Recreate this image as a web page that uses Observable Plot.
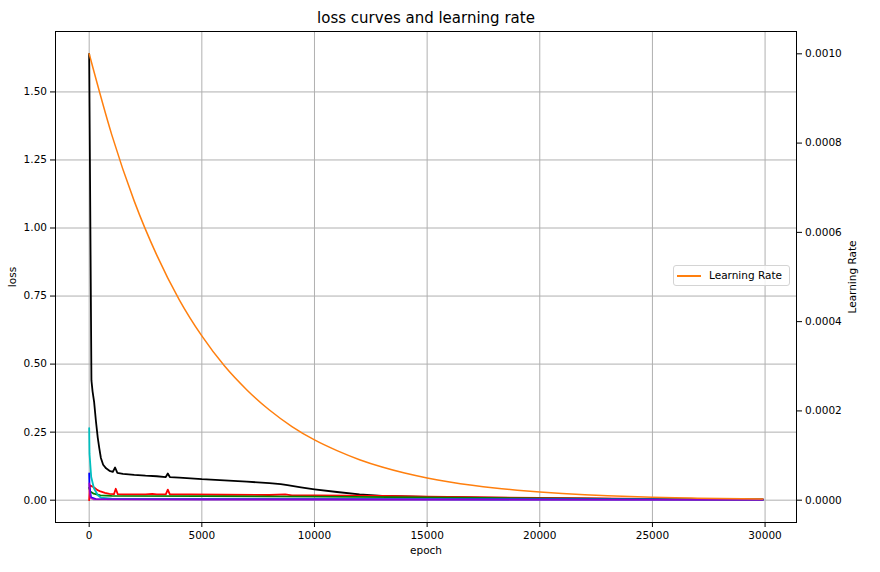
<!DOCTYPE html>
<html><head><meta charset="utf-8">
<script src="https://cdn.jsdelivr.net/npm/d3@7"></script>
<script src="https://cdn.jsdelivr.net/npm/@observablehq/plot@0.6"></script>
<style>
body{margin:0;background:#fff;font-family:"DejaVu Sans",sans-serif;}
#wrap{position:relative;width:880px;height:572px;}
#legend{position:absolute;left:673px;top:265px;width:117px;height:21px;border:1px solid #d4d4d4;border-radius:3px;background:rgba(255,255,255,0.85);font-size:10.5px;color:#000;z-index:2;box-sizing:border-box;}
#legend .sw{position:absolute;left:3px;top:9px;width:24px;height:2px;background:#ff7f0e;}
#legend .lb{position:absolute;left:35px;top:3px;white-space:nowrap;}
</style></head>
<body>
<div id="wrap"><div id="legend"><div class="sw"></div><div class="lb">Learning Rate</div></div></div>
<script>
// ---- data ----
const blackEpoch = [0,100,150,220,300,380,450,520,620,750,900,1050,1150,1250,1500,2000,2500,3000,3400,3490,3580,4000,5000,6000,7000,8000,8500,8800,9400,10000,11000,12000,13000,15000,17500,20000,25000,29900];
const blackLoss  = [1.64,0.44,0.40,0.36,0.29,0.23,0.19,0.155,0.13,0.117,0.108,0.104,0.12,0.10,0.097,0.093,0.09,0.088,0.085,0.098,0.085,0.083,0.077,0.073,0.068,0.063,0.059,0.055,0.047,0.040,0.030,0.021,0.016,0.012,0.009,0.007,0.004,0.003];

const redEpoch = [0,30,150,250,350,500,700,900,1100,1180,1270,1500,2000,2500,2800,3000,3400,3490,3580,4500,6000,8000,8700,9000,10000,13000,15000,20000,25000,29900];
const redLoss  = [0.0,0.055,0.05,0.045,0.038,0.032,0.027,0.023,0.022,0.042,0.022,0.021,0.021,0.021,0.023,0.021,0.021,0.039,0.021,0.021,0.020,0.019,0.021,0.018,0.018,0.016,0.013,0.008,0.005,0.003];

const greenEpoch = [0,50,200,500,1000,5000,10000,15000,20000,25000,29900];
const greenLoss  = [0.045,0.032,0.024,0.018,0.016,0.015,0.013,0.010,0.007,0.004,0.002];

const cyanEpoch = [0,15,90,210,385,530,1000,5000,15000,29900];
const cyanLoss  = [0.265,0.17,0.085,0.044,0.018,0.009,0.006,0.005,0.004,0.002];

const blueEpoch = [0,15,80,300,5000,29900];
const blueLoss  = [0.098,0.05,0.01,0.004,0.003,0.002];

const magentaEpoch = [0,20,60,200,29900];
const magentaLoss  = [0.062,0.035,0.008,0.003,0.001];

const lrEpoch = [0,1000,2000,3000,4000,5000,6000,7000,8000,9000,10000,11000,12000,13000,14000,15000,16000,17000,18000,19000,20000,21000,22000,23000,24000,25000,26000,27000,28000,29000,29900];
const lrValue = [0.001,0.000819,0.000670,0.000549,0.000449,0.000368,0.000301,0.000247,0.000202,0.000165,0.000135,0.000111,0.0000907,0.0000743,0.0000608,0.0000498,0.0000408,0.0000334,0.0000273,0.0000224,0.0000183,0.0000150,0.0000123,0.0000101,0.0000082,0.0000067,0.0000055,0.0000045,0.0000037,0.0000030,0.0000025];

const xTicks = [0,5000,10000,15000,20000,25000,30000];
const lossTicks = [0,0.25,0.5,0.75,1.0,1.25,1.5];
const lrTicks = [0,0.0002,0.0004,0.0006,0.0008,0.001];

// ---- scales ----
const xDomain = [-1495, 31395];
const lossDomain = [-0.082, 1.722];
const lrDomain = [-0.00005, 0.00105];
const toLoss = v => lossDomain[0] + (v - lrDomain[0]) / (lrDomain[1] - lrDomain[0]) * (lossDomain[1] - lossDomain[0]);
const fromLoss = v => lrDomain[0] + (v - lossDomain[0]) / (lossDomain[1] - lossDomain[0]) * (lrDomain[1] - lrDomain[0]);

const series = [
  {c:"#000000", e:blackEpoch, v:blackLoss},
  {c:"#ff0000", e:redEpoch, v:redLoss},
  {c:"#008000", e:greenEpoch, v:greenLoss},
  {c:"#00bfbf", e:cyanEpoch, v:cyanLoss},
  {c:"#0000ff", e:blueEpoch, v:blueLoss},
  {c:"#bf00bf", e:magentaEpoch, v:magentaLoss, o:0.75}
];
const lossMarks = series.map(s => Plot.line(s.e.map((e,i)=>({epoch:e, loss:s.v[i]})), {x:"epoch", y:"loss", stroke:s.c, strokeWidth:1.8, strokeOpacity:s.o ?? 1}));
const lrData = lrEpoch.map((e,i)=>({epoch:e, y:toLoss(lrValue[i])}));

const chart = Plot.plot({
  width: 880, height: 572,
  marginLeft: 55, marginRight: 84, marginTop: 31, marginBottom: 50,
  style: {fontFamily: "DejaVu Sans, sans-serif", fontSize: "10.5px", color: "#000", background: "#fff"},
  x: {domain: xDomain},
  y: {domain: lossDomain},
  marks: [
    Plot.gridX(xTicks, {stroke:"#b0b0b0", strokeOpacity:1, strokeWidth:1}),
    Plot.gridY(lossTicks, {stroke:"#b0b0b0", strokeOpacity:1, strokeWidth:1}),
    ...lossMarks,
    Plot.line(lrData, {x:"epoch", y:"y", stroke:"#ff7f0e", strokeWidth:1.5, curve:"monotone-x"}),
    Plot.frame({stroke:"#000", strokeWidth:1}),
    Plot.axisX({ticks:xTicks, tickSize:5, tickPadding:4, tickFormat:d=>String(d), label:null, fontSize:10.5}),
    Plot.axisY({anchor:"left", ticks:lossTicks, tickSize:5, tickPadding:3.5, tickFormat:d3.format(".2f"), label:null, fontSize:10.5}),
    Plot.axisY({anchor:"right", ticks:lrTicks.map(toLoss), tickSize:5, tickPadding:3.5, tickFormat:d=>(Math.round(fromLoss(d)*1e6)/1e6 + 0).toFixed(4), label:null, fontSize:10.5}),
    Plot.text(["loss curves and learning rate"], {text:d=>d, frameAnchor:"top", lineAnchor:"middle", textAnchor:"middle", dy:-13, fontSize:15}),
    Plot.text(["epoch"], {text:d=>d, frameAnchor:"bottom", lineAnchor:"middle", textAnchor:"middle", dy:28, fontSize:10.5}),
    Plot.text(["loss"], {text:d=>d, frameAnchor:"left", lineAnchor:"middle", textAnchor:"middle", dx:-43, rotate:-90, fontSize:10.5}),
    Plot.text(["Learning Rate"], {text:d=>d, frameAnchor:"right", lineAnchor:"middle", textAnchor:"middle", dx:56, rotate:-90, fontSize:10.5})
  ]
});
document.getElementById("wrap").prepend(chart);
</script>
</body></html>
